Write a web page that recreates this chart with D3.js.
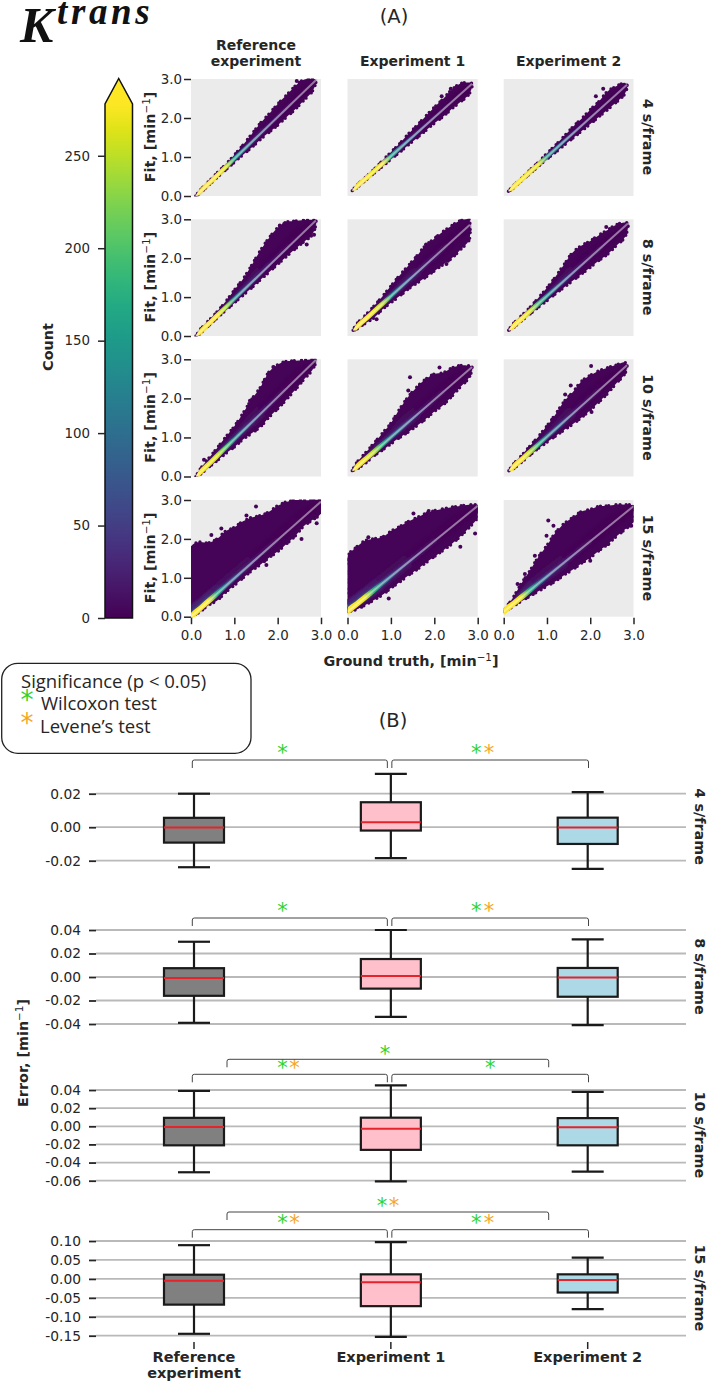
<!DOCTYPE html>
<html>
<head>
<meta charset="utf-8">
<script src="https://cdn.jsdelivr.net/npm/d3@7/dist/d3.min.js"></script>
<style>
  html, body { margin: 0; padding: 0; background: #fff; }
  svg { display: block; }
  text { font-family: "DejaVu Sans", sans-serif; fill: #262626; }
</style>
</head>
<body>
<svg id="fig" width="709" height="1382"></svg>
<script>
// ---------- shared labels ----------
const rowLabels = ["4 s/frame", "8 s/frame", "10 s/frame", "15 s/frame"];
const experiments = ["Reference experiment", "Experiment 1", "Experiment 2"];
const fitTicks = [0, 1, 2, 3];
const countTicks = [0, 50, 100, 150, 200, 250];
const countMax = 278;

// ---------- (A) density clouds: fit vs ground truth, min^-1 ----------
// Knots along ground truth at which the cloud's spread and density were read.
const gtKnots = [0, 0.2, 0.4, 0.6, 0.8, 1.0, 1.2, 1.4, 1.6, 1.8, 2.0, 2.2, 2.4, 2.6, 2.8, 3.0];

// Ends of the densest ridge in each panel, [ground truth, fit], row by row.
const ridgeStart = [
  [0.11, 0.0], [0.11, 0.137], [0.11, 0.12],
  [0.115, 0.0], [0.13, 0.146], [0.115, 0.146],
  [0.115, 0.0], [0.11, 0.15], [0.12, 0.146],
  [0.0, 0.0], [0.0, 0.13], [0.0, 0.13]
];
const ridgeEnd = [
  [2.88, 2.97], [2.87, 2.88], [2.85, 2.85],
  [2.88, 2.97], [2.82, 2.86], [2.87, 2.89],
  [2.88, 2.98], [2.87, 2.80], [2.85, 2.85],
  [3.0, 2.96], [3.0, 2.85], [3.0, 2.84]
];

// How far the cloud reaches above the ridge at each knot.
const spreadAbove = [
  [0, .04, .05, .065, .07, .095, .14, .2, .27, .29, .33, .34, .36, .31, .12, 0],
  [0, .03, .04, .05, .075, .10, .12, .17, .19, .23, .26, .27, .31, .27, .10, 0],
  [0, .03, .03, .05, .06, .085, .10, .13, .17, .18, .21, .22, .28, .21, .10, 0],
  [0, .06, .08, .10, .15, .23, .30, .44, .60, .71, .76, .69, .50, .31, .10, 0],
  [0, .08, .10, .14, .19, .26, .33, .38, .43, .50, .47, .45, .40, .33, .16, 0],
  [0, .06, .08, .10, .15, .21, .30, .42, .53, .50, .42, .37, .30, .24, .10, 0],
  [0, .08, .15, .20, .27, .33, .45, .59, .68, .86, .83, .70, .50, .30, .10, 0],
  [0, .10, .16, .22, .29, .36, .53, .65, .71, .72, .66, .50, .43, .30, .10, 0],
  [0, .06, .10, .15, .20, .28, .38, .51, .55, .63, .58, .50, .38, .25, .12, 0],
  [1.80, 1.72, 1.50, 1.41, 1.41, 1.31, 1.27, 1.17, 1.02, .92, .88, .78, .63, .43, .24, .04],
  [1.42, 1.47, 1.46, 1.33, 1.19, 1.16, 1.10, 1.05, .97, .89, .78, .65, .51, .36, .21, .02],
  [0.02, .15, .35, .50, .68, .80, .95, 1.0, .98, .95, .82, .72, .55, .40, .22, .02]
];

// How far the cloud reaches below the ridge at each knot.
const spreadBelow = [
  [0, .04, .04, .05, .07, .09, .11, .14, .15, .18, .21, .22, .24, .22, .20, 0],
  [0, .03, .04, .05, .07, .08, .10, .11, .13, .14, .15, .18, .18, .20, .20, 0],
  [0, .03, .03, .04, .05, .06, .085, .10, .12, .14, .16, .17, .19, .20, .18, 0],
  [0, .04, .05, .06, .08, .10, .12, .14, .15, .17, .18, .20, .22, .25, .28, 0],
  [0, .05, .10, .16, .14, .17, .20, .22, .27, .32, .36, .40, .44, .42, .38, 0],
  [0, .04, .05, .07, .09, .12, .14, .17, .20, .23, .26, .28, .32, .30, .28, 0],
  [0, .05, .08, .12, .15, .20, .22, .28, .33, .30, .30, .28, .25, .20, .17, 0],
  [0, .06, .10, .10, .14, .17, .20, .25, .28, .30, .30, .33, .30, .25, .20, 0],
  [0, .05, .07, .08, .10, .14, .18, .22, .27, .30, .31, .30, .28, .22, .17, 0],
  [0, .08, .10, .18, .16, .18, .19, .20, .24, .26, .30, .30, .30, .24, .28, .30],
  [0, .13, .20, .25, .30, .30, .33, .34, .37, .38, .40, .42, .44, .42, .38, .30],
  [0, .06, .10, .15, .20, .25, .30, .32, .36, .38, .42, .42, .44, .42, .42, .40]
];

// Hexagon count on the ridge at each knot.
const ridgeCounts = [
  [278, 278, 278, 278, 262, 145, 118, 88, 60, 42, 30, 20, 12, 8, 5, 3],
  [278, 278, 278, 270, 275, 155, 118, 90, 62, 42, 30, 20, 12, 8, 5, 3],
  [278, 278, 278, 272, 268, 140, 115, 88, 60, 42, 30, 20, 12, 8, 5, 3],
  [278, 278, 278, 278, 240, 125, 105, 78, 54, 38, 26, 18, 10, 7, 4, 2],
  [278, 278, 278, 270, 255, 135, 105, 78, 54, 38, 26, 18, 10, 7, 4, 2],
  [278, 278, 278, 262, 190, 125, 100, 75, 52, 36, 24, 16, 10, 6, 4, 2],
  [278, 278, 270, 262, 200, 125, 100, 72, 50, 34, 22, 14, 9, 6, 4, 2],
  [278, 278, 272, 250, 170, 115, 94, 70, 48, 32, 20, 14, 9, 6, 4, 2],
  [278, 278, 278, 255, 175, 105, 88, 66, 46, 30, 20, 14, 9, 6, 4, 2],
  [278, 278, 278, 165, 105, 76, 58, 44, 32, 22, 14, 9, 6, 4, 3, 2],
  [278, 278, 270, 180, 110, 76, 58, 44, 32, 22, 14, 9, 6, 4, 3, 2],
  [278, 278, 270, 170, 105, 76, 58, 44, 32, 22, 14, 9, 6, 4, 3, 2]
];

// Half height of the ridge itself, one list per frame time.
const ridgeHalf = [
  [.075, .075, .075, .075, .072, .07, .065, .055, .045, .04, .035, .035, .03, .03, .03, .03],
  [.08, .08, .08, .08, .075, .07, .065, .055, .045, .04, .035, .035, .03, .03, .03, .03],
  [.085, .085, .085, .085, .075, .07, .065, .055, .045, .04, .035, .035, .03, .03, .03, .03],
  [.09, .09, .09, .085, .072, .065, .055, .05, .04, .04, .035, .035, .03, .03, .03, .03]
];

// Isolated hexagons outside the main cloud, [ground truth, fit].
const strayPoints = [
  [[2.44, 2.95], [2.52, 2.9]],
  [[2.17, 2.56], [2.38, 2.75], [2.51, 2.78]],
  [[2.13, 2.56], [2.3, 2.75]],
  [[2.05, 2.84], [2.15, 2.88], [2.84, 2.6], [2.67, 2.35]],
  [[1.81, 2.35], [2.05, 2.54], [2.28, 1.85], [0.67, 0.43]],
  [[2.37, 2.8]],
  [[0.3, 0.43], [1.9, 2.8], [1.36, 1.94]],
  [[1.44, 2.54], [2.12, 2.79], [1.67, 2.33], [1.4, 2.2]],
  [[2.02, 2.83], [1.55, 2.33], [1.42, 2.1], [2.03, 1.65]],
  [[1.5, 2.83], [1.28, 2.6], [0.47, 2.1], [0.7, 2.27], [2.9, 2.4], [2.55, 2.0], [1.74, 1.33]],
  [[1.52, 2.65], [1.87, 2.72], [0.95, 0.47], [2.94, 2.14], [2.6, 1.8], [0.48, 2.04]],
  [[1.03, 2.47], [0.99, 2.08], [1.15, 2.34], [1.38, 2.3], [2.0, 1.44], [2.42, 1.87], [0.32, 0.84], [0.49, 1.1], [0.72, 1.57], [2.95, 2.34]]
];

// ---------- (B) error box plots, min^-1: [low, Q1, median, Q3, high] ----------
const boxes4s = [
  [-0.0239, -0.0092, -0.0002, 0.0056, 0.0200],
  [-0.0185, -0.0020, 0.0030, 0.0149, 0.0318],
  [-0.0249, -0.0100, -0.0002, 0.0057, 0.0209]
];
const boxes8s = [
  [-0.0390, -0.0160, -0.0008, 0.0075, 0.0300],
  [-0.0340, -0.0099, 0.0008, 0.0153, 0.0400],
  [-0.0410, -0.0168, -0.0005, 0.0077, 0.0320]
];
const boxes10s = [
  [-0.0507, -0.0210, -0.0007, 0.0093, 0.0390],
  [-0.0607, -0.0260, -0.0026, 0.0095, 0.0450],
  [-0.0500, -0.0210, -0.0010, 0.0090, 0.0380]
];
const boxes15s = [
  [-0.1450, -0.0680, -0.0050, 0.0110, 0.0890],
  [-0.1530, -0.0720, -0.0090, 0.0120, 0.0970],
  [-0.0800, -0.0360, -0.0030, 0.0120, 0.0560]
];
const boxRows = [boxes4s, boxes8s, boxes10s, boxes15s];
const boxColors = ["#808080", "#ffc0cb", "#add8e6"];
const errorTicks = [
  [-0.02, 0, 0.02],
  [-0.04, -0.02, 0, 0.02, 0.04],
  [-0.06, -0.04, -0.02, 0, 0.02, 0.04],
  [-0.15, -0.10, -0.05, 0, 0.05, 0.10]
];

// Test flags per comparison: w = Wilcoxon, l = Levene, "" = no bracket.
const sigRefVsExp1 = ["w", "w", "wl", "wl"];
const sigExp1VsExp2 = ["wl", "wl", "w", "wl"];
const sigRefVsExp2 = ["", "", "w", "wl"];

// ---------- layout ----------
const svg = d3.select("#fig");
const defs = svg.append("defs");
const colX = [[191, 321], [347.5, 477.7], [503.7, 633.5]];
const rowY = [[79, 196], [219.3, 336], [359.3, 476.5], [500, 616.7]];
const boxY = [[860.7, 793.7], [1024, 930], [1180.7, 1090], [1335.7, 1241]];
const bracketY = [760, 918, 1074.3, 1229.7];
const outerBracketY = [0, 0, 1059.3, 1212];
const viridis = d3.scaleSequential(d3.interpolateViridis).domain([0, countMax]);
const GREEN = "#2fd32f", ORANGE = "#f5a623", INK = "#262626";
const LABEL_SIZE = 14.4;

const softFilter = defs.append("filter").attr("id", "soft")
  .attr("x", "-10%").attr("y", "-10%").attr("width", "120%").attr("height", "120%");
softFilter.append("feGaussianBlur").attr("stdDeviation", 1.3);

function withMinus(sel, prefix, suffixDy) {
  sel.text(prefix);
  sel.append("tspan").attr("dy", -suffixDy).attr("font-size", "0.72em").attr("font-weight", "normal").text("\u22121");
  sel.append("tspan").attr("dy", suffixDy).text("]");
}

// ---------- title ----------
svg.append("text").attr("x", 20).attr("y", 41.5)
  .style("font-family", "'Liberation Serif', serif").style("fill", "#111")
  .attr("font-weight", "bold").attr("font-style", "italic").attr("font-size", 50).text("K");
svg.append("text").attr("x", 57).attr("y", 24)
  .style("font-family", "'Liberation Serif', serif").style("fill", "#111")
  .attr("font-weight", "bold").attr("font-style", "italic").attr("font-size", 37)
  .attr("letter-spacing", 3.6).text("trans");
svg.append("text").attr("x", 394).attr("y", 23).attr("text-anchor", "middle").attr("font-size", 19.5).text("(A)");
svg.append("text").attr("x", 393).attr("y", 727).attr("text-anchor", "middle").attr("font-size", 19.5).text("(B)");

// ---------- colour bar ----------
const cbar = svg.append("g");
const cbarScale = d3.scaleLinear().domain([0, countMax]).range([618, 104]);
const cbarGrad = defs.append("linearGradient").attr("id", "cbar-grad")
  .attr("x1", 0).attr("x2", 0).attr("y1", 1).attr("y2", 0);
d3.range(0, 1.0001, 0.05).forEach(t => cbarGrad.append("stop")
  .attr("offset", t).attr("stop-color", d3.interpolateViridis(t)));
cbar.append("rect").attr("x", 105).attr("y", 104).attr("width", 27.5).attr("height", 514).attr("fill", "url(#cbar-grad)");
cbar.append("path").attr("d", "M105,104 L118.7,78.5 L132.5,104 Z").attr("fill", viridis(countMax));
cbar.append("path").attr("d", "M105,618 L105,104 L118.7,78.5 L132.5,104 L132.5,618 Z")
  .attr("fill", "none").attr("stroke", "#111").attr("stroke-width", 1.5);
const cbarAxis = cbar.append("g").attr("transform", "translate(105,0)")
  .call(d3.axisLeft(cbarScale).tickValues(countTicks).tickSize(7).tickPadding(8).tickFormat(d3.format("d")));
cbarAxis.select(".domain").remove();
cbarAxis.selectAll("line").attr("stroke", INK).attr("stroke-width", 1.5);
cbarAxis.selectAll("text").attr("font-size", 13.4).style("font-family", "'DejaVu Sans'");
svg.append("text").attr("transform", "translate(53,347) rotate(-90)").attr("text-anchor", "middle")
  .attr("font-weight", "bold").attr("font-size", LABEL_SIZE).text("Count");

// ---------- (A) panels ----------
const panelLine = d3.line().curve(d3.curveCatmullRom.alpha(0.5));
rowLabels.forEach((rowLabel, r) => {
  experiments.forEach((exp, c) => {
    const i = r * 3 + c;
    const x = d3.scaleLinear().domain([0, 3]).range(colX[c]);
    const y = d3.scaleLinear().domain([0, 3]).range([rowY[r][1], rowY[r][0]]);
    const g = svg.append("g");
    g.append("rect").attr("x", colX[c][0]).attr("y", rowY[r][0])
      .attr("width", colX[c][1] - colX[c][0]).attr("height", rowY[r][1] - rowY[r][0]).attr("fill", "#ebebeb");

    const clipId = `panel-clip-${i}`;
    defs.append("clipPath").attr("id", clipId).append("rect")
      .attr("x", colX[c][0]).attr("y", rowY[r][0] - 0.5)
      .attr("width", colX[c][1] - colX[c][0]).attr("height", rowY[r][1] - rowY[r][0] + 1);
    const body = g.append("g").attr("clip-path", `url(#${clipId})`);

    const [sx, sy] = ridgeStart[i];
    const [ex, ey] = ridgeEnd[i];
    const ridgeAt = d3.scaleLinear().domain([sx, ex]).range([sy, ey]);
    const inside = d3.range(gtKnots.length).filter(k => gtKnots[k] >= sx && gtKnots[k] <= ex);

    // Closed outline around the ridge, widened by the given per-knot amounts.
    const band = (up, down) => {
      const top = inside.map(k => [x(gtKnots[k]), y(ridgeAt(gtKnots[k]) + up(k))]);
      const bottom = inside.map(k => [x(gtKnots[k]), y(ridgeAt(gtKnots[k]) - down(k))]).reverse();
      return panelLine([[x(sx), y(sy)], ...top, [x(ex), y(ey)], ...bottom]) + "Z";
    };

    // Colour ramp running along the ridge, scaled to a share of the ridge count.
    const ramp = (id, share) => {
      const grad = defs.append("linearGradient").attr("id", id).attr("gradientUnits", "userSpaceOnUse")
        .attr("x1", x(sx)).attr("y1", y(sy)).attr("x2", x(ex)).attr("y2", y(ey));
      inside.forEach(k => grad.append("stop")
        .attr("offset", (gtKnots[k] - sx) / (ex - sx))
        .attr("stop-color", viridis(ridgeCounts[i][k] * share)));
      return `url(#${id})`;
    };

    const cloudPath = band(k => spreadAbove[i][k], k => spreadBelow[i][k]);
    body.append("path").attr("d", cloudPath).attr("fill", "#450457");
    // Uneven beaded edge standing in for the individual border hexagons.
    body.append("path").attr("d", cloudPath).attr("fill", "none").attr("stroke", "#450457")
      .attr("stroke-width", 3.4).attr("stroke-linecap", "round")
      .attr("stroke-dasharray", "0 3.1 0 5.7 0 2.6 0 7.3 0 4.1 0 6.2");
    body.selectAll("circle.stray").data(strayPoints[i]).join("circle").attr("class", "stray")
      .attr("cx", d => x(d[0])).attr("cy", d => y(d[1])).attr("r", 2).attr("fill", "#450457");

    // Density rises toward the ridge; the soft bands stay close to it even where the cloud is wide.
    body.append("path").attr("d", band(k => Math.min(spreadAbove[i][k] * 0.55, 0.28), k => Math.min(spreadBelow[i][k] * 0.6, 0.2)))
      .attr("fill", ramp(`ramp-wide-${i}`, 0.1)).attr("filter", "url(#soft)");
    body.append("path").attr("d", band(k => Math.min(spreadAbove[i][k] * 0.25, 0.11), k => Math.min(spreadBelow[i][k] * 0.3, 0.1)))
      .attr("fill", ramp(`ramp-mid-${i}`, 0.35)).attr("filter", "url(#soft)");
    body.append("path").attr("d", band(k => ridgeHalf[r][k], k => ridgeHalf[r][k]))
      .attr("fill", ramp(`ramp-core-${i}`, 1));

    // Identity line across the cloud.
    body.append("line").attr("x1", x(sx)).attr("y1", y(sy)).attr("x2", x(ex)).attr("y2", y(ey))
      .attr("stroke", "#fff").attr("stroke-opacity", 0.45).attr("stroke-width", 2);

    if (c === 0) {
      const ax = g.append("g").attr("transform", `translate(${colX[c][0]},0)`)
        .call(d3.axisLeft(y).tickValues(fitTicks).tickSize(7).tickPadding(2).tickFormat(d3.format(".1f")));
      ax.select(".domain").remove();
      ax.selectAll("line").attr("stroke", INK).attr("stroke-width", 1.5);
      ax.selectAll("text").attr("font-size", 13.4);
      const lab = svg.append("text")
        .attr("transform", `translate(155,${(rowY[r][0] + rowY[r][1]) / 2 - 0.5}) rotate(-90)`)
        .attr("text-anchor", "middle").attr("font-weight", "bold").attr("font-size", LABEL_SIZE);
      withMinus(lab, "Fit, [min", 5.5);
    }
    if (r === 3) {
      const ax = g.append("g").attr("transform", `translate(0,${rowY[r][1] + 1})`)
        .call(d3.axisBottom(x).tickValues(fitTicks).tickSize(6.5).tickPadding(6).tickFormat(d3.format(".1f")));
      ax.select(".domain").remove();
      ax.selectAll("line").attr("stroke", INK).attr("stroke-width", 1.5);
      ax.selectAll("text").attr("font-size", 13.4);
    }
    if (c === 2) {
      svg.append("text").attr("transform", `translate(643,${(rowY[r][0] + rowY[r][1]) / 2 - 0.5}) rotate(90)`)
        .attr("text-anchor", "middle").attr("font-weight", "bold").attr("font-size", LABEL_SIZE).text(rowLabel);
    }
  });
});

// Column headers above the panels.
[["Reference", "experiment"], ["Experiment 1"], ["Experiment 2"]].forEach((lines, c) => {
  const cx = (colX[c][0] + colX[c][1]) / 2;
  lines.forEach((line, n) => svg.append("text")
    .attr("x", cx).attr("y", 66 - (lines.length - 1 - n) * 16)
    .attr("text-anchor", "middle").attr("font-weight", "bold").attr("font-size", 14).text(line));
});
const gtLabel = svg.append("text").attr("x", 411).attr("y", 666).attr("text-anchor", "middle")
  .attr("font-weight", "bold").attr("font-size", LABEL_SIZE);
withMinus(gtLabel, "Ground truth, [min", 5.5);

// ---------- significance legend ----------
const OPEN = "'Open Sans', sans-serif";
svg.append("rect").attr("x", 1.7).attr("y", 663.3).attr("width", 249.3).attr("height", 90)
  .attr("rx", 16).attr("fill", "#fff").attr("stroke", "#222").attr("stroke-width", 1.3);
[["Significance (p < 0.05)", 21, 688], ["Wilcoxon test", 41, 710], ["Levene\u2019s test", 40, 733]].forEach(d =>
  svg.append("text").attr("x", d[1]).attr("y", d[2]).style("font-family", OPEN).attr("font-size", 18.5).text(d[0]));
function star(x, cy, color, size) {
  // The glyph sits high in its em box; the baseline is moved so its centre lands on cy.
  svg.append("text").attr("x", x).attr("y", cy + size * 0.40).attr("text-anchor", "middle")
    .attr("font-size", size).style("fill", color).text("*");
}
star(27, 698.5, GREEN, 26);
star(27, 721.5, ORANGE, 26);

// ---------- (B) box plots ----------
const catX = d3.scalePoint().domain(experiments).range([194, 587.7]);
const boxW = 60, capW = 32;

boxRows.forEach((rows, r) => {
  const ticks = errorTicks[r];
  const y = d3.scaleLinear().domain([d3.min(ticks), d3.max(ticks)]).range(boxY[r]);
  const g = svg.append("g");
  g.selectAll("line.grid").data(ticks).join("line").attr("class", "grid")
    .attr("x1", 96).attr("x2", 686).attr("y1", d => y(d)).attr("y2", d => y(d))
    .attr("stroke", "#b9b9b9").attr("stroke-width", 1.8);
  const ax = g.append("g").attr("transform", "translate(96,0)")
    .call(d3.axisLeft(y).tickValues(ticks).tickSize(7).tickPadding(8)
      .tickFormat(d => d3.format(".2f")(d).replace("\u2212", "-")));
  ax.select(".domain").remove();
  ax.selectAll("line").attr("stroke", INK).attr("stroke-width", 1.8);
  ax.selectAll("text").attr("font-size", 13.8);

  rows.forEach(([lo, q1, med, q3, hi], c) => {
    const cx = catX(experiments[c]);
    const b = g.append("g").attr("stroke", "#1a1a1a").attr("stroke-width", 2.2);
    b.append("line").attr("x1", cx).attr("x2", cx).attr("y1", y(hi)).attr("y2", y(lo));
    [lo, hi].forEach(v => b.append("line")
      .attr("x1", cx - capW / 2).attr("x2", cx + capW / 2).attr("y1", y(v)).attr("y2", y(v)));
    b.append("rect").attr("x", cx - boxW / 2).attr("width", boxW)
      .attr("y", y(q3)).attr("height", y(q1) - y(q3)).attr("fill", boxColors[c]);
    g.append("line").attr("x1", cx - boxW / 2).attr("x2", cx + boxW / 2)
      .attr("y1", y(med)).attr("y2", y(med)).attr("stroke", "#e5232b").attr("stroke-width", 2);
  });

  // Comparison brackets with their significance stars.
  const c0 = catX(experiments[0]), c1 = catX(experiments[1]), c2 = catX(experiments[2]);
  const bracket = (x0, x1, top) => svg.append("path")
    .attr("d", `M${x0},${top + 8} V${top + 2} Q${x0},${top} ${x0 + 2},${top} H${x1 - 2} Q${x1},${top} ${x1},${top + 2} V${top + 8}`)
    .attr("fill", "none").attr("stroke", "#444").attr("stroke-width", 1);
  const stars = (flags, gx, ox, cy) => {
    if (flags.includes("w")) star(gx, cy, GREEN, 21);
    if (flags.includes("l")) star(ox, cy, ORANGE, 21);
  };
  bracket(c0 - 1.7, c1 - 3.5, bracketY[r]);
  bracket(c1 + 1, c2 + 0.8, bracketY[r]);
  stars(sigRefVsExp1[r], c0 + 88.5, c0 + 100.5, bracketY[r] - 8);
  const rightSingle = sigExp1VsExp2[r] === "w";
  stars(sigExp1VsExp2[r], rightSingle ? c2 - 97.5 : c2 - 111.5, c2 - 98.7, bracketY[r] - 8);
  if (sigRefVsExp2[r]) {
    bracket(c0 + 33, c2 - 39, outerBracketY[r]);
    const single = sigRefVsExp2[r] === "w";
    stars(sigRefVsExp2[r], single ? 385 : 382, 394, outerBracketY[r] - 7);
  }

  svg.append("text").attr("transform", `translate(695,${(boxY[r][0] + boxY[r][1]) / 2 - 0.5}) rotate(90)`)
    .attr("text-anchor", "middle").attr("font-weight", "bold").attr("font-size", LABEL_SIZE).text(rowLabels[r]);
});

// Shared category axis under the last box plot.
const catAxis = svg.append("g").attr("transform", "translate(0,1349)");
experiments.forEach(name => catAxis.append("line")
  .attr("x1", catX(name)).attr("x2", catX(name)).attr("y1", -7).attr("y2", 0)
  .attr("stroke", INK).attr("stroke-width", 1.5));
[["Reference", "experiment"], ["Experiment 1"], ["Experiment 2"]].forEach((lines, c) =>
  lines.forEach((line, n) => svg.append("text")
    .attr("x", catX(experiments[c])).attr("y", 1362 + n * 16)
    .attr("text-anchor", "middle").attr("font-weight", "bold").attr("font-size", 14.5).text(line)));

const errLabel = svg.append("text").attr("transform", "translate(28,1053) rotate(-90)")
  .attr("text-anchor", "middle").attr("font-weight", "bold").attr("font-size", LABEL_SIZE);
withMinus(errLabel, "Error, [min", 5.5);
</script>
</body>
</html>
